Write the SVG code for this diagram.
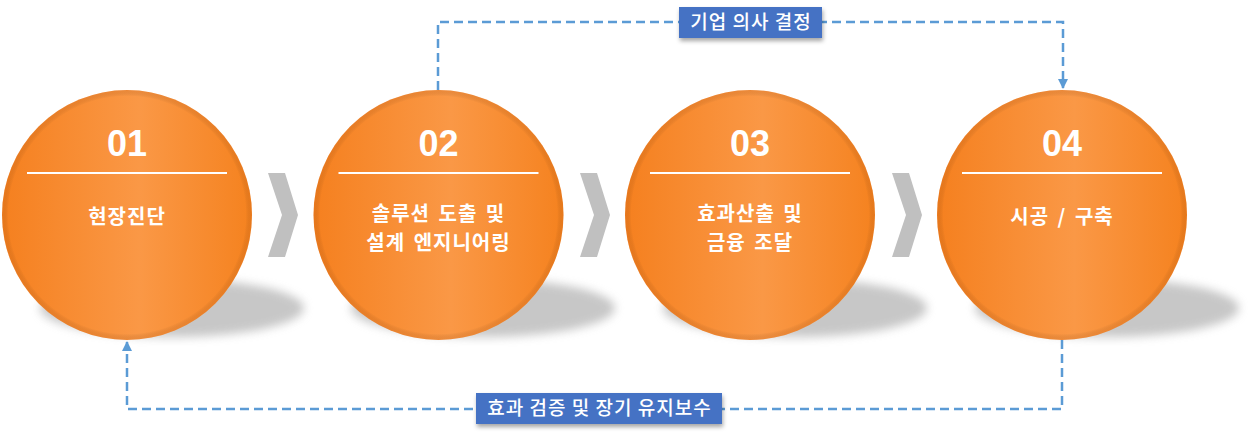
<svg xmlns="http://www.w3.org/2000/svg" width="1248" height="435" viewBox="0 0 1248 435">
<style>
.num{font-family:"Liberation Sans",Arial,sans-serif;font-weight:bold;font-size:36px;fill:#fff;text-anchor:middle}
.lbl{font-family:"Noto Sans CJK KR","Noto Sans",sans-serif;font-weight:bold;font-size:20px;letter-spacing:1px;word-spacing:3px;fill:#fff;text-anchor:middle}
.tag{font-family:"Noto Sans CJK KR","Noto Sans",sans-serif;font-weight:500;font-size:19px;letter-spacing:1px;fill:#fff;text-anchor:middle}
.conn{fill:none;stroke:#5b9bd5;stroke-width:2.5;stroke-dasharray:9 5}
.chev{fill:#c0c0c0}
.sep{stroke:#fff;stroke-width:2}
.shadow{fill:#9a9a9a;opacity:0.55;filter:url(#blur)}
.box{fill:#4472c4;filter:url(#bs)}
</style>
<defs>
<linearGradient id="og" x1="0" y1="0" x2="1" y2="0">
<stop offset="0" stop-color="#f5801f"/>
<stop offset="0.55" stop-color="#fa9846"/>
<stop offset="1" stop-color="#f5821f"/>
</linearGradient>
<radialGradient id="rim" cx="0.5" cy="0.5" r="0.5">
<stop offset="0.95" stop-color="#000" stop-opacity="0"/>
<stop offset="1" stop-color="#c05a10" stop-opacity="0.2"/>
</radialGradient>
<filter id="blur" x="-20%" y="-50%" width="140%" height="200%"><feGaussianBlur stdDeviation="5"/></filter>
<filter id="bs" x="-10%" y="-30%" width="120%" height="170%"><feDropShadow dx="1" dy="3" stdDeviation="2" flood-color="#000" flood-opacity="0.35"/></filter>
<marker id="arr" viewBox="0 0 10 10" refX="9" refY="5" markerWidth="4" markerHeight="4" orient="auto"><path d="M0,0 L10,5 L0,10 z" fill="#5b9bd5"/></marker>
</defs>
<g id="shadows">
<ellipse class="shadow" cx="172" cy="308" rx="132" ry="29"/>
<ellipse class="shadow" cx="483" cy="308" rx="132" ry="29"/>
<ellipse class="shadow" cx="795" cy="308" rx="132" ry="29"/>
<ellipse class="shadow" cx="1107" cy="308" rx="132" ry="29"/>
</g>
<g id="chevrons">
<polygon class="chev" points="268,173 285,173 298,215 285,257 268,257 282,215"/>
<polygon class="chev" points="580,173 597,173 610,215 597,257 580,257 594,215"/>
<polygon class="chev" points="892,173 909,173 922,215 909,257 892,257 906,215"/>
</g>
<g id="connectors">
<path class="conn" d="M438,90 V22 H1063 V88" marker-end="url(#arr)"/>
<path class="conn" d="M1062,340 V409 H127 V342" marker-end="url(#arr)"/>
</g>
<g id="node1">
<circle cx="127" cy="215" r="125" fill="url(#og)"/>
<circle cx="127" cy="215" r="125" fill="url(#rim)"/>
<text class="num" x="127" y="156">01</text>
<line class="sep" x1="27" y1="173" x2="227" y2="173"/>
<text class="lbl" x="127" y="224">현장진단</text>
</g>
<g id="node2">
<circle cx="438.5" cy="215" r="125" fill="url(#og)"/>
<circle cx="438.5" cy="215" r="125" fill="url(#rim)"/>
<text class="num" x="438.5" y="156">02</text>
<line class="sep" x1="338.5" y1="173" x2="538.5" y2="173"/>
<text class="lbl" x="438.5" y="221">솔루션 도출 및</text>
<text class="lbl" x="438.5" y="250">설계 엔지니어링</text>
</g>
<g id="node3">
<circle cx="750" cy="215" r="125" fill="url(#og)"/>
<circle cx="750" cy="215" r="125" fill="url(#rim)"/>
<text class="num" x="750" y="156">03</text>
<line class="sep" x1="650" y1="173" x2="850" y2="173"/>
<text class="lbl" x="750" y="221">효과산출 및</text>
<text class="lbl" x="750" y="250">금융 조달</text>
</g>
<g id="node4">
<circle cx="1062" cy="215" r="125" fill="url(#og)"/>
<circle cx="1062" cy="215" r="125" fill="url(#rim)"/>
<text class="num" x="1062" y="156">04</text>
<line class="sep" x1="962" y1="173" x2="1162" y2="173"/>
<text class="lbl" x="1062" y="224">시공 / 구축</text>
</g>
<g id="label-top">
<rect class="box" x="679" y="7" width="143" height="31"/>
<text class="tag" x="751" y="29">기업 의사 결정</text>
</g>
<g id="label-bottom">
<rect class="box" x="476" y="393" width="246" height="31"/>
<text class="tag" x="599.5" y="415">효과 검증 및 장기 유지보수</text>
</g>
</svg>
